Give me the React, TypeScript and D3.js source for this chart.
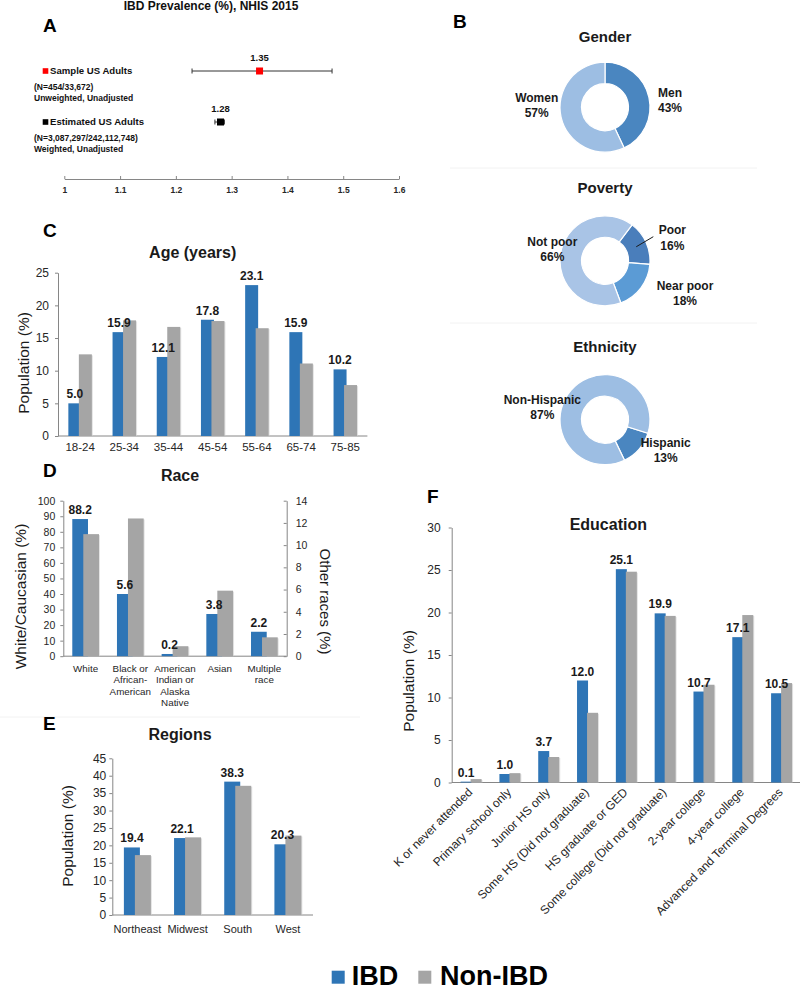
import * as d3 from "d3";
import { useRef, useEffect } from "react";

const FONT = "'Liberation Sans', Arial, Helvetica, sans-serif";
const IBD_COLOR = "#2e75b6";
const NON_COLOR = "#a5a5a5";
const AXIS_COLOR = "#868686";

// A: prevalence
const prevLabels = ["Sample US Adults", "Estimated US Adults"];
const prevSub1 = ["(N=454/33,672)", "(N=3,087,297/242,112,748)"];
const prevSub2 = ["Unweighted, Unadjusted", "Weighted, Unadjusted"];
const prevValues = [1.35, 1.28];
const prevLow = [1.229, 1.27];
const prevHigh = [1.48, 1.287];
const prevColors = ["#ff0000", "#000000"];
const prevTicks = [1, 1.1, 1.2, 1.3, 1.4, 1.5, 1.6];

// B: donuts
const genderLabels = ["Men", "Women"];
const genderValues = [43, 57];
const povertyLabels = ["Poor", "Near poor", "Not poor"];
const povertyValues = [16, 18, 66];
const ethnicityLabels = ["Hispanic", "Non-Hispanic"];
const ethnicityValues = [13, 87];

// C: age
const ageGroups = ["18-24", "25-34", "35-44", "45-54", "55-64", "65-74", "75-85"];
const ageIBD = [5.0, 15.9, 12.1, 17.8, 23.1, 15.9, 10.2];
const ageNonIBD = [12.5, 17.7, 16.7, 17.6, 16.5, 11.1, 7.8];

// D: race (White on left axis, others on right axis)
const raceGroups = ["White", "Black or African-American", "American Indian or Alaska Native", "Asian", "Multiple race"];
const raceLines = [["White"], ["Black or", "African-", "American"], ["American", "Indian or", "Alaska", "Native"], ["Asian"], ["Multiple", "race"]];
const raceIBD = [88.2, 5.6, 0.2, 3.8, 2.2];
const raceNonIBD = [78.5, 12.4, 0.9, 5.9, 1.7];
const raceOnRight = [false, true, true, true, true];

// E: regions
const regions = ["Northeast", "Midwest", "South", "West"];
const regionIBD = [19.4, 22.1, 38.3, 20.3];
const regionNonIBD = [17.2, 22.3, 37.1, 22.8];

// F: education
const eduLevels = [
  "K or never attended", "Primary school only", "Junior HS only", "Some HS (Did not graduate)",
  "HS graduate or GED", "Some college (Did not graduate)", "2-year college", "4-year college",
  "Advanced and Terminal Degrees",
];
const eduIBD = [0.1, 1.0, 3.7, 12.0, 25.1, 19.9, 10.7, 17.1, 10.5];
const eduNonIBD = [0.4, 1.1, 3.0, 8.2, 24.8, 19.6, 11.5, 19.7, 11.7];

function Axis({ axis, transform, fontSize, bold = false }: any) {
  const ref = useRef<SVGGElement>(null);
  useEffect(() => {
    if (!ref.current) return;
    const g = d3.select(ref.current);
    g.call(axis);
    g.attr("font-size", fontSize).attr("font-family", FONT);
    g.select(".domain").attr("stroke", AXIS_COLOR);
    g.selectAll(".tick line").attr("stroke", AXIS_COLOR);
    g.selectAll(".tick text").attr("fill", "#262626").attr("font-weight", bold ? "bold" : "normal");
  });
  return <g ref={ref} transform={transform} />;
}

function Forest() {
  const x = d3.scaleLinear([1, 1.6], [64.3, 399]);
  const y = d3.scalePoint(prevLabels, [71, 122]);
  return (
    <g fontFamily={FONT} fontWeight="bold" fill="#111">
      <text x={211} y={9.5} fontSize={12} textAnchor="middle">IBD Prevalence (%), NHIS 2015</text>
      {prevLabels.map((d, i) => {
        const yy = y(d)!;
        return (
          <g key={d}>
            <rect x={42.7} y={yy - 2.8} width={5.6} height={5.6} fill={prevColors[i]} />
            <text x={50} y={yy + 3.4} fontSize={9.6}>{d}</text>
            <text x={34} y={yy + 19.3} fontSize={8.5}>{prevSub1[i]}</text>
            <text x={34} y={yy + 30} fontSize={8.5}>{prevSub2[i]}</text>
            <line x1={x(prevLow[i])} x2={x(prevHigh[i])} y1={yy} y2={yy} stroke="#333" strokeWidth={1} />
            <line x1={x(prevLow[i])} x2={x(prevLow[i])} y1={yy - 2.5} y2={yy + 2.5} stroke="#333" />
            <line x1={x(prevHigh[i])} x2={x(prevHigh[i])} y1={yy - 2.5} y2={yy + 2.5} stroke="#333" />
            <rect x={x(prevValues[i]) - 3.5} y={yy - 3.5} width={7} height={7} fill={prevColors[i]} />
            <text x={x(prevValues[i])} y={yy - 10.5} fontSize={9.5} textAnchor="middle">{prevValues[i].toFixed(2)}</text>
          </g>
        );
      })}
      <Axis axis={d3.axisBottom(x).tickValues(prevTicks).tickSize(-3).tickSizeOuter(0).tickPadding(8).tickFormat((d: any) => String(d))}
        transform="translate(0,179)" fontSize={8.5} bold />
    </g>
  );
}

function Donut({ cx, cy, values, labels, colors, start, offsets, leader = -1 }: any) {
  const pie = d3.pie<number>().sort(null).startAngle(start * Math.PI / 180).endAngle(start * Math.PI / 180 + 2 * Math.PI);
  const arcs = pie(values);
  const arc = d3.arc<d3.PieArcDatum<number>>().innerRadius(23.5).outerRadius(45);
  return (
    <g transform={`translate(${cx},${cy})`} fontFamily={FONT}>
      {arcs.map((a, i) => (
        <path key={i} d={arc(a)!} fill={colors[i]} stroke="#fff" strokeWidth={1.2} />
      ))}
      {arcs.map((a, i) => {
        const [dx, dy] = offsets[i];
        const c = arc.centroid(a);
        return (
          <g key={"l" + i} fontSize={12} fontWeight="bold" fill="#1a1a1a" textAnchor="middle">
            {i === leader && <line x1={c[0]} y1={c[1]} x2={dx - 19} y2={dy + 6.7} stroke="#1a1a1a" strokeWidth={1} />}
            <text x={dx} y={dy + 4.3}>{labels[i]}</text>
            <text x={dx} y={dy + 19.6}>{values[i]}%</text>
          </g>
        );
      })}
    </g>
  );
}

function GroupedBars({ cats, ibd, non, left, right, top, bottom, yMax, yStep, rightMax = 0, rightStep = 0, onRight,
  groupW, barW, tickSize, tickPad, catSize, catY, lines, lineH = 11, rotate = false }: any) {
  const x = d3.scaleBand(cats, [left, right]);
  const y = d3.scaleLinear([0, yMax], [bottom, top]);
  const yR = d3.scaleLinear([0, rightMax || 1], [bottom, top]);
  const sc = (i: number) => (onRight && onRight[i] ? yR : y);
  const cx = (c: string) => x(c)! + x.bandwidth() / 2;
  return (
    <g fontFamily={FONT}>
      <line x1={left} x2={right} y1={bottom} y2={bottom} stroke={AXIS_COLOR} />
      <Axis axis={d3.axisLeft(y).tickValues(d3.range(0, yMax + 0.001, yStep)).tickSize(3).tickSizeOuter(0).tickPadding(tickPad).tickFormat(d3.format("d"))}
        transform={`translate(${left},0)`} fontSize={tickSize} />
      {rightMax > 0 && (
        <Axis axis={d3.axisRight(yR).tickValues(d3.range(0, rightMax + 0.001, rightStep)).tickSize(-3).tickSizeOuter(0).tickPadding(9).tickFormat(d3.format("d"))}
          transform={`translate(${right},0)`} fontSize={tickSize} />
      )}
      {cats.map((c: string, i: number) => {
        const s = sc(i);
        const c0 = cx(c);
        return (
          <g key={c}>
            <rect x={c0 - groupW / 2} y={s(ibd[i])} width={barW} height={bottom - s(ibd[i])} fill={IBD_COLOR} />
            <rect x={c0 + groupW / 2 - barW + 1} y={s(non[i]) + 1} width={barW} height={bottom - s(non[i]) - 1} fill="#d0d0d0" opacity={0.6} />
            <rect x={c0 + groupW / 2 - barW} y={s(non[i])} width={barW} height={bottom - s(non[i])} fill={NON_COLOR} />
            <text x={c0 - groupW / 2 + barW / 2} y={s(ibd[i]) - 5} fontSize={12} fontWeight="bold" fill="#1a1a1a" textAnchor="middle">
              {ibd[i].toFixed(1)}
            </text>
          </g>
        );
      })}
      {cats.map((c: string, i: number) =>
        rotate ? (
          <text key={"t" + c} transform={`translate(${cx(c) + 2},${catY}) rotate(-45)`} textAnchor="end" fontSize={catSize} fill="#262626">{c}</text>
        ) : (
          <text key={"t" + c} x={cx(c)} y={catY} textAnchor="middle" fontSize={catSize} fill="#262626">
            {(lines ? lines[i] : [c]).map((l: string, j: number) => (
              <tspan key={j} x={cx(c)} dy={j === 0 ? 0 : lineH}>{l}</tspan>
            ))}
          </text>
        )
      )}
    </g>
  );
}

function VTitle({ x, y, text, size = 15.5, rot = -90 }: any) {
  return (
    <text transform={`translate(${x},${y}) rotate(${rot})`} textAnchor="middle" dominantBaseline="central"
      fontSize={size} fontFamily={FONT} fill="#1a1a1a">{text}</text>
  );
}

function Title({ x, y, text, size = 16 }: any) {
  return <text x={x} y={y} textAnchor="middle" fontSize={size} fontWeight="bold" fontFamily={FONT} fill="#1a1a1a">{text}</text>;
}

function Letter({ x, y, text }: any) {
  return <text x={x} y={y} fontSize={19} fontWeight="bold" fontFamily={FONT} fill="#000">{text}</text>;
}

export default function App() {
  const width = 800;
  const height = 1004;
  return (
    <svg width={width} height={height} style={{ position: "absolute", left: 0, top: 0, background: "#fff" }}>
      <rect width={width} height={height} fill="#fff" />
      {/* faint panel separators */}
      <g stroke="#f2f2f2" strokeWidth={1}>
        <line x1={450} x2={757} y1={168} y2={168} />
        <line x1={450} x2={757} y1={323} y2={323} />
        <line x1={0} x2={360} y1={717} y2={717} />
      </g>

      <Letter x={43} y={31.7} text="A" />
      <Forest />

      <Letter x={453} y={28.3} text="B" />
      <Title x={605} y={42} text="Gender" size={15} />
      <Donut cx={605} cy={107.2} values={genderValues} labels={genderLabels} colors={["#4a86c0", "#9dbee3"]} start={0}
        offsets={[[65, -14.5], [-68.3, -9.5]]} />
      <Title x={605} y={193} text="Poverty" size={15} />
      <Donut cx={605} cy={260.8} values={povertyValues} labels={povertyLabels} colors={["#4a7ebb", "#5b9bd5", "#a9c4e6"]} start={37}
        offsets={[[67.3, -30.8], [80, 24.9], [-52.7, -19.1]]} leader={0} />
      <Title x={605} y={352} text="Ethnicity" size={15} />
      <Donut cx={605} cy={419.7} values={ethnicityValues} labels={ethnicityLabels} colors={["#4a86c0", "#9dbee3"]} start={107.5}
        offsets={[[60.7, 23], [-62.7, -20.4]]} />

      <Letter x={43} y={236.7} text="C" />
      <Title x={192.7} y={258} text="Age (years)" />
      <VTitle x={23.3} y={363} text="Population (%)" />
      <GroupedBars cats={ageGroups} ibd={ageIBD} non={ageNonIBD} left={58} right={367.4} top={272.7} bottom={436}
        yMax={25} yStep={5} groupW={23.5} barW={13} tickSize={12} tickPad={6} catSize={11.5} catY={451} />

      <Letter x={43} y={476.7} text="D" />
      <Title x={180} y={481} text="Race" />
      <VTitle x={20} y={596.5} text="White/Caucasian (%)" />
      <VTitle x={325} y={601.5} text="Other races (%)" size={15} rot={90} />
      <GroupedBars cats={raceGroups} ibd={raceIBD} non={raceNonIBD} onRight={raceOnRight} left={63.3} right={286.7} top={500.7} bottom={656.2}
        yMax={100} yStep={10} rightMax={14} rightStep={2} groupW={26.7} barW={15.7} tickSize={10.5} tickPad={5}
        catSize={9.8} catY={672} lines={raceLines} lineH={11.3} />

      <Letter x={43} y={730} text="E" />
      <Title x={180} y={740} text="Regions" />
      <VTitle x={67} y={836} text="Population (%)" />
      <GroupedBars cats={regions} ibd={regionIBD} non={regionNonIBD} left={112.3} right={313} top={758.3} bottom={915}
        yMax={45} yStep={5} groupW={27} barW={16} tickSize={12} tickPad={3} catSize={11} catY={933} />

      <Letter x={427} y={503.3} text="F" />
      <Title x={608.3} y={529.7} text="Education" />
      <VTitle x={408} y={681} text="Population (%)" />
      <GroupedBars cats={eduLevels} ibd={eduIBD} non={eduNonIBD} left={451.7} right={801} top={527.5} bottom={782.5}
        yMax={30} yStep={5} groupW={21} barW={11} tickSize={12} tickPad={8} catSize={12} catY={793} rotate />

      {/* legend */}
      <g fontFamily={FONT} fontWeight="bold" fontSize={27} fill="#000">
        <rect x={331.7} y={970.7} width={13} height={13} fill={IBD_COLOR} />
        <text x={351.7} y={985}>IBD</text>
        <rect x={418.3} y={970.7} width={13} height={13} fill={NON_COLOR} />
        <text x={440} y={985}>Non-IBD</text>
      </g>
    </svg>
  );
}
